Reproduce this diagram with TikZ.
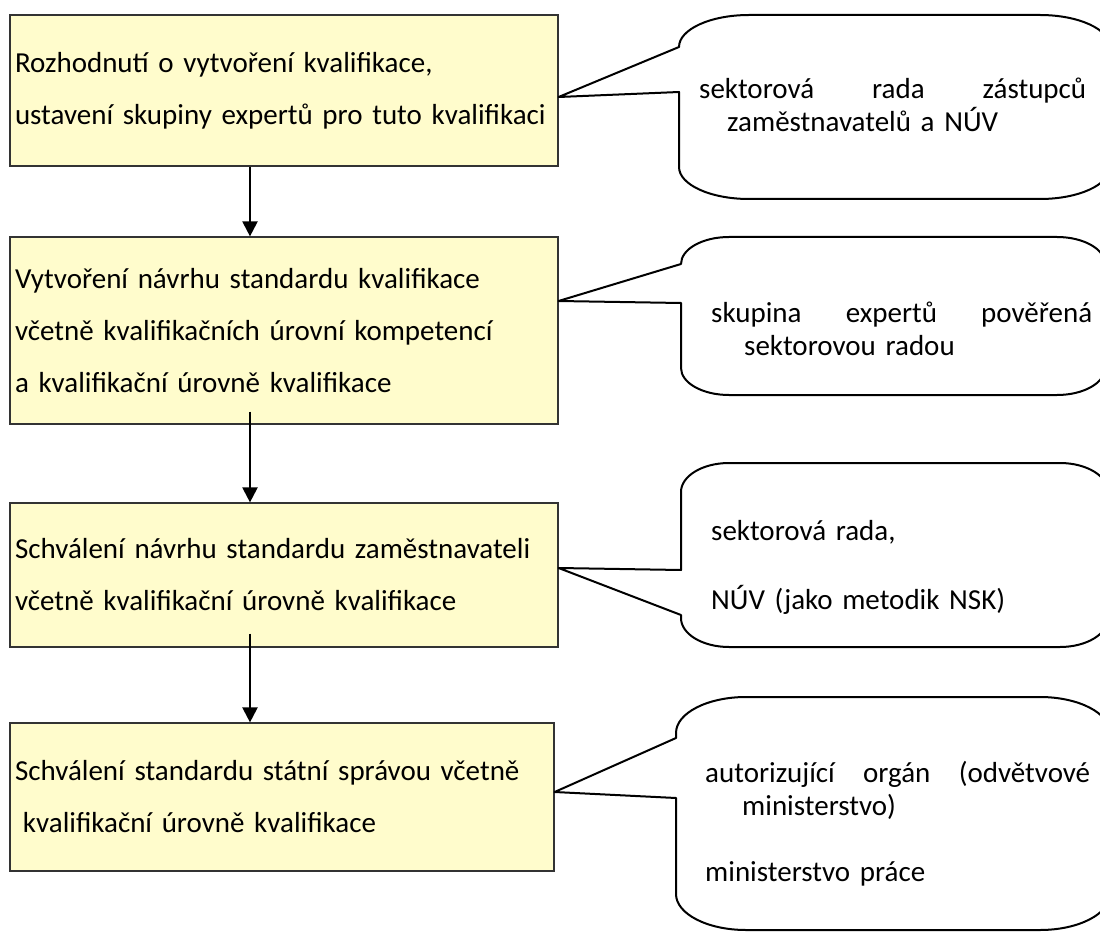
\documentclass[tikz,border=0pt]{standalone}
\usepackage{fontspec}
\setmainfont{Carlito}
\usetikzlibrary{arrows.meta}
\hyphenpenalty=10000

% speech bubble: tip, left, top, right, bottom, upper join, lower join, x radius, y radius
\newcommand{\bubble}[9]{%
  \draw[bubbleline] (#1) -- (#2,#6) -- (#2,#3+#9)
    .. controls (#2,#3+0.4477*#9) and (#2+0.4477*#8,#3) .. (#2+#8,#3)
    -- (#4-#8,#3)
    .. controls (#4-0.4477*#8,#3) and (#4,#3+0.4477*#9) .. (#4,#3+#9)
    -- (#4,#5-#9)
    .. controls (#4,#5-0.4477*#9) and (#4-0.4477*#8,#5) .. (#4-#8,#5)
    -- (#2+#8,#5)
    .. controls (#2+0.4477*#8,#5) and (#2,#5-0.4477*#9) .. (#2,#5-#9)
    -- (#2,#7) -- cycle;}

\begin{document}
\begin{tikzpicture}[x=1pt,y=-1pt,
    box/.style={draw=black!80, line width=1.2pt, fill=yellow!20, align=left,
      text width=538pt, inner xsep=5pt, minimum width=548pt,
      font=\fontsize{29}{52}\selectfont},
    say/.style={align=left, inner sep=0pt, font=\fontsize{29}{33}\selectfont},
    bubbleline/.style={draw=black, line width=2pt, line join=round},
    flow/.style={-{Triangle[length=15pt,width=15pt]}, line width=2.2pt}]
    \useasboundingbox (0,0) rectangle (1100,933);

    \node[box, minimum height=151pt] (b1) at (284,90.5) {Rozhodnutí o vytvoření kvalifikace,\\ustavení skupiny expertů pro tuto kvalifikaci};
    \node[box, minimum height=187pt] (b2) at (284,330.5) {Vytvoření návrhu standardu kvalifikace\\včetně kvalifikačních úrovní kompetencí\\a kvalifikační úrovně kvalifikace};
    \node[box, minimum height=144pt] (b3) at (284,575) {Schválení návrhu standardu zaměstnavateli\\včetně kvalifikační úrovně kvalifikace};
    \node[box, minimum height=148pt, minimum width=544pt, text width=534pt] (b4) at (282,797) {Schválení standardu státní správou včetně\\\hspace*{8pt}kvalifikační úrovně kvalifikace};

    \draw[flow] ([xshift=-34pt]b1.south) -- ([xshift=-34pt]b2.north);
    \draw[flow] ([xshift=-34pt,yshift=13pt]b2.south) -- ([xshift=-34pt]b3.north);
    \draw[flow] ([xshift=-34pt,yshift=14pt]b3.south) -- ([xshift=-32pt]b4.north);

    \coordinate (t1) at ([yshift=-6.5pt]b1.east);
    \coordinate (t2) at ([yshift=29.5pt]b2.east);
    \coordinate (t3) at ([yshift=7pt]b3.east);
    \coordinate (t4) at ([yshift=5pt]b4.east);

    \bubble{t1}{679}{15}{1110}{199}{47}{92}{70}{32}
    \bubble{t2}{681}{237}{1105}{395}{264}{303}{48}{27}
    \bubble{t3}{681}{463}{1108}{647}{570}{615}{48}{29}
    \bubble{t4}{676}{697}{1110}{930}{738}{798}{70}{36}

    \node[say, text width=387pt, anchor=base west] (s1) at (699,99) {sektorová\hfill rada\hfill zástupců\\\hspace*{28pt}zaměstnavatelů a NÚV};
    \node[say, text width=381pt, anchor=base west] (s2) at (711,322) {skupina\hfill expertů\hfill pověřená\\\hspace*{33pt}sektorovou radou};
    \node[say, text width=381pt, anchor=base west] (s3) at (711,540) {sektorová rada,\\[36pt]NÚV (jako metodik NSK)};
    \node[say, text width=385pt, anchor=base west] (s4) at (705,782) {autorizující\hfill orgán\hfill (odvětvové\\\hspace*{37pt}ministerstvo)\\[33pt]ministerstvo práce};
\end{tikzpicture}
\end{document}
